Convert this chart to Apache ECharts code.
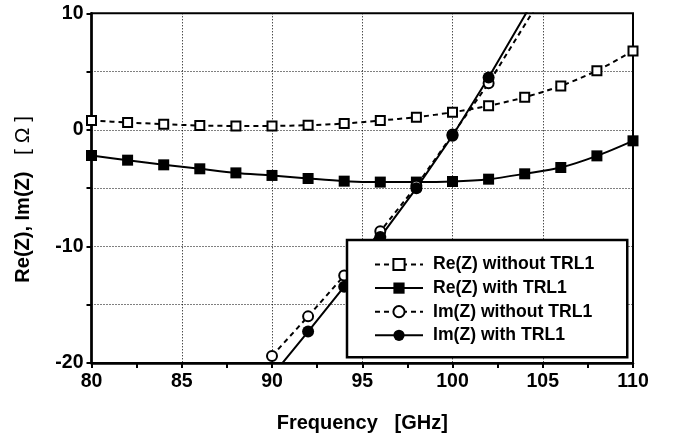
<!DOCTYPE html>
<html>
<head>
<meta charset="utf-8">
<script src="https://cdn.jsdelivr.net/npm/echarts@6/dist/echarts.min.js"></script>
<style>html,body{margin:0;padding:0;background:#fff;}#c{width:674px;height:438px;}</style>
</head>
<body>
<div id="c"></div>
<script>
// ---- data ----
const reFreq = [80, 82, 84, 86, 88, 90, 92, 94, 96, 98, 100, 102, 104, 106, 108, 110];
const reWithout = [0.8, 0.63, 0.49, 0.37, 0.34, 0.34, 0.4, 0.54, 0.8, 1.09, 1.51, 2.06, 2.8, 3.77, 5.08, 6.77];
const reWith = [-2.2, -2.6, -3.0, -3.34, -3.69, -3.91, -4.17, -4.4, -4.48, -4.48, -4.43, -4.23, -3.77, -3.23, -2.23, -0.94];
const imWithoutFreq = [90, 92, 94, 96, 98, 100, 102, 106];
const imWithout = [-19.4, -16.0, -12.5, -8.7, -4.8, -0.4, 4.0, 14.0];
const imWithFreq = [90, 92, 94, 96, 98, 100, 102, 106];
const imWith = [-21.1, -17.3, -13.45, -9.2, -5.0, -0.5, 4.5, 15.1];
const seriesNames = ['Re(Z) without TRL1', 'Re(Z) with TRL1', 'Im(Z) without TRL1', 'Im(Z) with TRL1'];
const xTicks = [80, 85, 90, 95, 100, 105, 110];
const yTicks = [-20, -10, 0, 10];

const pairs = (xs, ys) => xs.map((x, i) => [x, ys[i]]);
const FONT = '"Liberation Sans", Arial, sans-serif';

const chart = echarts.init(document.getElementById('c'), null, {renderer: 'canvas'});
function mk(name, data, dashed, symbol, filled, smooth) {
  return {
    name, type: 'line', data, smooth, clip: true,
    symbol, symbolSize: symbol === 'rect' ? (filled ? 11 : 9) : (filled ? 12 : 10),
    showAllSymbol: true,
    lineStyle: {color: '#000', width: 2, type: dashed ? [5, 4] : 'solid'},
    itemStyle: {color: filled ? '#000' : '#fff', borderColor: '#000', borderWidth: filled ? 0 : 2},
    emphasis: {disabled: true}, animation: false
  };
}
chart.setOption({
  animation: false,
  backgroundColor: '#fff',
  grid: {left: 91.5, right: 41, top: 13.3, bottom: 74.7, show: true, borderColor: '#000', borderWidth: 2, backgroundColor: 'transparent'},
  xAxis: {
    type: 'value', min: 80, max: 110, interval: 5,
    name: 'Frequency   [GHz]', nameLocation: 'middle', nameGap: 50,
    nameTextStyle: {fontFamily: FONT, fontWeight: 'bold', fontSize: 20, color: '#000'},
    axisLine: {show: true, onZero: false, lineStyle: {color: '#000', width: 2.5}},
    axisTick: {show: true, inside: false, length: 5, lineStyle: {color: '#000', width: 2}},
    minorTick: {show: true, splitNumber: 2, length: 5, lineStyle: {color: '#000', width: 2}},
    axisLabel: {fontFamily: FONT, fontWeight: 'bold', fontSize: 19.5, color: '#000', margin: 9,
      formatter: v => xTicks.includes(v) ? String(v) : ''},
    splitLine: {show: true, lineStyle: {color: '#000', width: 1, type: [1, 2]}}
  },
  yAxis: {
    type: 'value', min: -20, max: 10, interval: 5,
    name: 'Re(Z), Im(Z)   {n|[ Ω ]}    ', nameLocation: 'middle', nameGap: 58, nameRotate: 90,
    nameTextStyle: {fontFamily: FONT, fontWeight: 'bold', fontSize: 20, color: '#000',
      rich: {n: {fontFamily: FONT, fontWeight: 'normal', fontSize: 21, color: '#000'}}},
    axisLine: {show: true, onZero: false, lineStyle: {color: '#000', width: 2.5}},
    axisTick: {show: true, inside: false, length: 5, lineStyle: {color: '#000', width: 2}},
    axisLabel: {fontFamily: FONT, fontWeight: 'bold', fontSize: 19.5, color: '#000', margin: 8,
      formatter: v => yTicks.includes(v) ? String(v) : ''},
    splitLine: {show: true, lineStyle: {color: '#000', width: 1, type: [1, 2]}}
  },
  legend: {
    orient: 'vertical', left: 347, top: 240,
    padding: [15.5, 33, 13, 27],
    backgroundColor: '#fff', borderColor: '#000', borderWidth: 2.5, borderRadius: 0,
    itemWidth: 48, itemHeight: 14, itemGap: 5.6,
    textStyle: {fontFamily: FONT, fontWeight: 'bold', fontSize: 17.6, color: '#000', padding: [0, 0, 0, 5]},
    data: seriesNames
  },
  series: [
    mk(seriesNames[0], pairs(reFreq, reWithout), true, 'rect', false, 0.3),
    mk(seriesNames[1], pairs(reFreq, reWith), false, 'rect', true, 0.3),
    mk(seriesNames[2], pairs(imWithoutFreq, imWithout), true, 'circle', false, false),
    mk(seriesNames[3], pairs(imWithFreq, imWith), false, 'circle', true, false)
  ]
});
</script>
</body>
</html>
